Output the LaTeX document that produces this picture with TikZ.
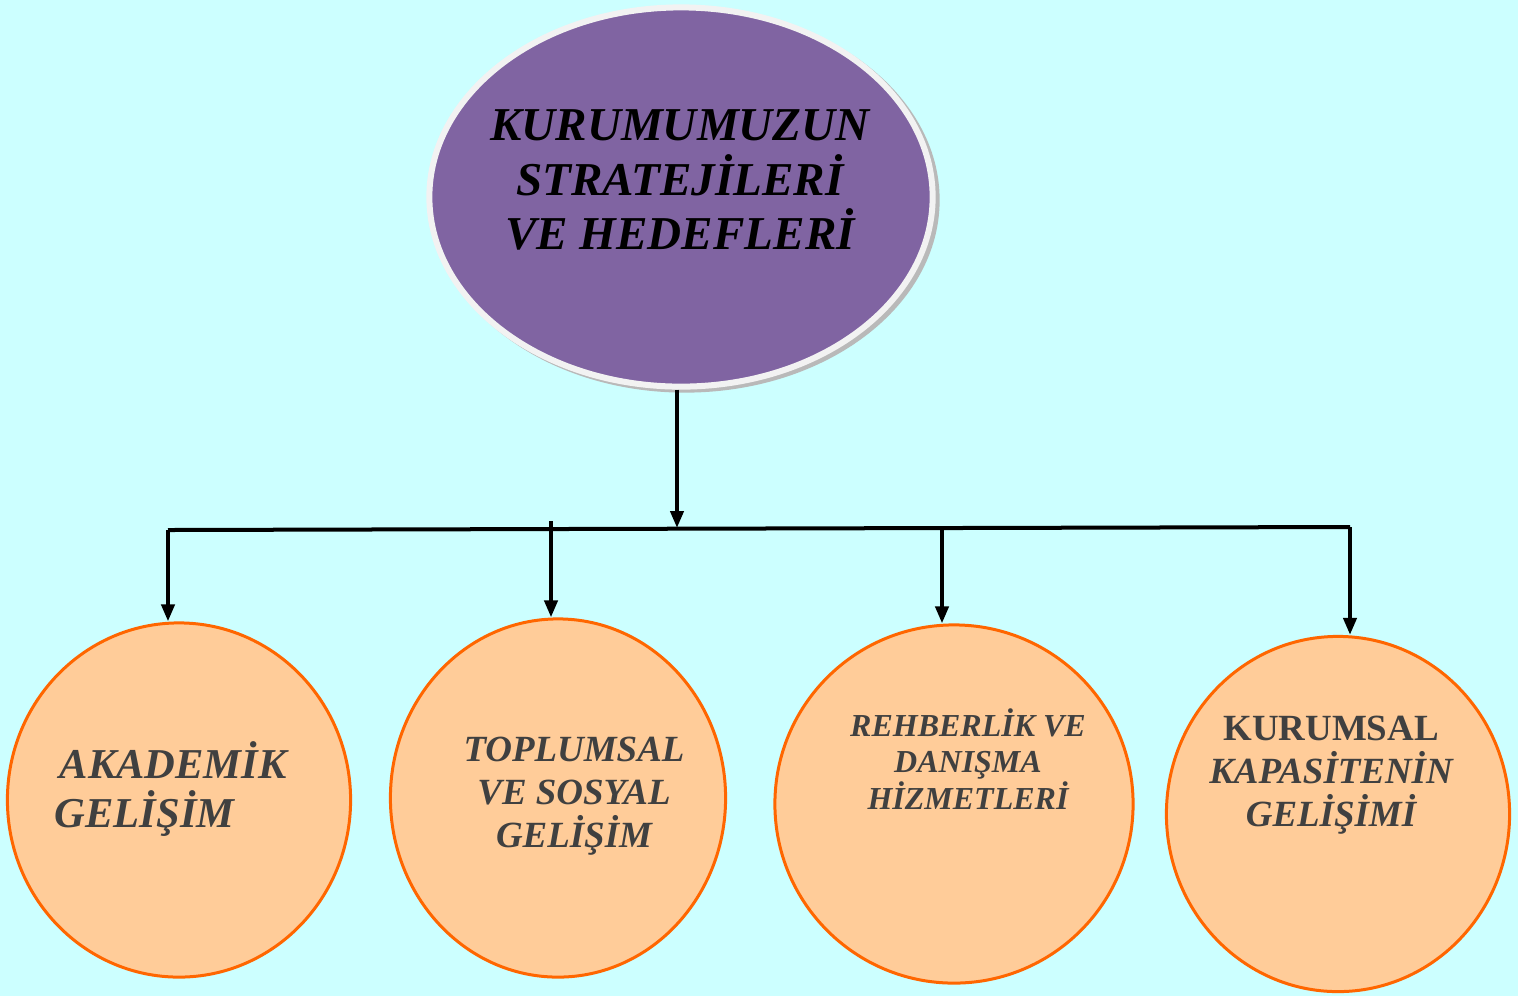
\documentclass[tikz,border=0pt]{standalone}
\usepackage{fontspec}
\setmainfont{Liberation Serif}
\usetikzlibrary{shapes.geometric,arrows.meta}
\definecolor{bgcyan}{HTML}{CCFFFF}
\definecolor{topviolet}{HTML}{8064A2}
\definecolor{ringwhite}{HTML}{F2F2F2}
\definecolor{peach}{HTML}{FFCC99}
\definecolor{rimorange}{HTML}{FF6600}
\definecolor{textgrey}{HTML}{404040}
\begin{document}
\begin{tikzpicture}[x=0.01cm, y=-0.01cm,
    goal/.style={ellipse, fill=peach, draw=rimorange, line width=0.03cm, inner sep=0pt},
    goaltext/.style={text=textgrey, align=center, inner sep=0pt},
    link/.style={line width=0.04cm, -{Triangle[length=0.17cm, width=0.13cm]}}]
    \fill[bgcyan] (0,0) rectangle (1518,996);
    \node[ellipse, fill=gray!55, minimum width=5.09cm, minimum height=3.85cm] (topshadow) at (685,200) {};
    \node[ellipse, fill=topviolet, draw=ringwhite, line width=0.06cm, minimum width=5.03cm, minimum height=3.79cm] (top) at (681,197) {};
    \node[font=\fontsize{13.4pt}{15.6pt}\selectfont\bfseries\itshape, align=center, inner sep=0pt] (toptext) at (680,180) {KURUMUMUZUN\\STRATEJİLERİ\\VE HEDEFLERİ};

    \node[goal, minimum width=3.43cm, minimum height=3.54cm] (akad) at (179,800) {};
    \node[goal, minimum width=3.35cm, minimum height=3.58cm] (toplum) at (558,798) {};
    \node[goal, minimum width=3.58cm, minimum height=3.58cm] (rehber) at (954,804) {};
    \node[goal, minimum width=3.43cm, minimum height=3.55cm] (kurum) at (1338,814) {};

    \node[goaltext, align=left, anchor=west, font=\fontsize{12.1pt}{14.2pt}\selectfont\bfseries\itshape] (akadtext) at (54,789) {\hspace{0.05cm}AKADEMİK\\GELİŞİM};
    \node[goaltext, font=\fontsize{10.5pt}{12.2pt}\selectfont\bfseries\itshape] (toplumtext) at (574,796) {TOPLUMSAL\\VE SOSYAL\\GELİŞİM};
    \node[goaltext, font=\fontsize{9.1pt}{10.3pt}\selectfont\bfseries\itshape] (rehbertext) at (968,759) {REHBERLİK VE\\DANIŞMA\\HİZMETLERİ};
    \node[goaltext, font=\fontsize{10.5pt}{12.2pt}\selectfont\bfseries\itshape] (kurumtext) at (1331,775) {\textup{KURUMSAL}\\KAPASİTENİN\\GELİŞİMİ};

    \coordinate (hub) at (677,528);
    \coordinate (barL) at (168,530);
    \coordinate (barR) at (1350,527);
    \coordinate (drop2) at (551,521);
    \coordinate (drop3) at (942,529);

    \draw[link] (top.south -| hub) -- (hub);
    \draw[line width=0.04cm] (barL) -- (barR);
    \draw[link] (barL) -- (barL |- akad.north);
    \draw[link] (drop2) -- (drop2 |- toplum.north);
    \draw[link] (drop3) -- (drop3 |- rehber.north);
    \draw[link] (barR) -- (barR |- kurum.north);
\end{tikzpicture}
\end{document}
